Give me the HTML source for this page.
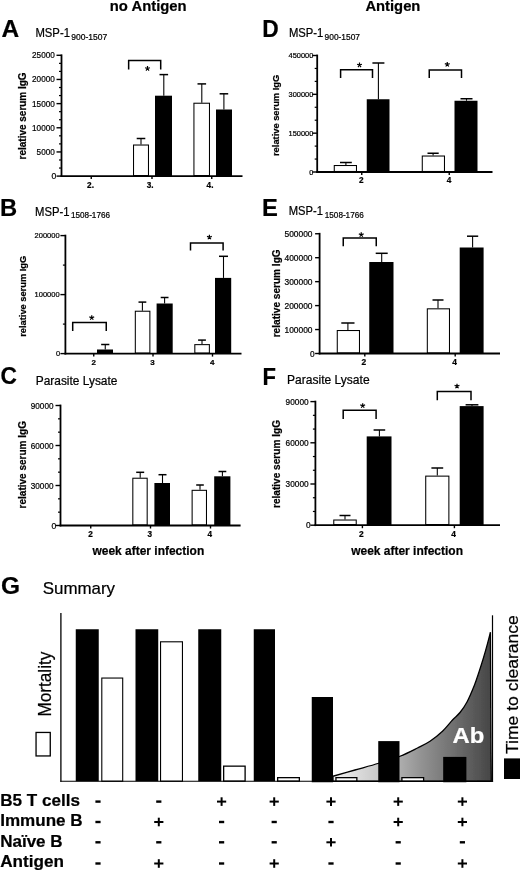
<!DOCTYPE html>
<html><head><meta charset="utf-8"><title>Figure</title>
<style>html,body{margin:0;padding:0;background:#fff;}svg{display:block;}text{font-family:"Liberation Sans",sans-serif;stroke:#000;stroke-width:0.22px;}text.w{stroke:#fff;}</style></head>
<body>
<svg width="520" height="872" viewBox="0 0 520 872">
<defs><filter id="soft" x="0" y="0" width="520" height="872" filterUnits="userSpaceOnUse"><feGaussianBlur stdDeviation="0.3"/></filter><linearGradient id="g" x1="333" y1="0" x2="491" y2="0" gradientUnits="userSpaceOnUse"><stop offset="0" stop-color="#f2f2f2"/><stop offset="0.3" stop-color="#c6c6c6"/><stop offset="0.55" stop-color="#949494"/><stop offset="0.75" stop-color="#727272"/><stop offset="1" stop-color="#464646"/></linearGradient></defs>
<rect width="520" height="872" fill="#fff"/>
<g filter="url(#soft)">
<text x="109.8" y="10.7" font-size="15.3"  font-weight="bold" textLength="76.8" lengthAdjust="spacingAndGlyphs" >no Antigen</text>
<text x="365.4" y="10.7" font-size="15.3"  font-weight="bold" textLength="55" lengthAdjust="spacingAndGlyphs" >Antigen</text>
<rect x="133.525" y="145.025" width="14.95" height="30.549999999999994" fill="#fff" stroke="#000" stroke-width="1.05"/>
<rect x="155" y="95.7" width="17" height="80.39999999999999" fill="#000"/>
<rect x="193.925" y="103.22500000000001" width="15.549999999999994" height="72.35" fill="#fff" stroke="#000" stroke-width="1.05"/>
<rect x="216" y="109.5" width="16" height="66.6" fill="#000"/>
<line x1="141" y1="138.5" x2="141" y2="144.5" stroke="#000" stroke-width="1.08"/>
<line x1="136.7" y1="138.5" x2="145.3" y2="138.5" stroke="#000" stroke-width="1.5"/>
<line x1="163.8" y1="74.6" x2="163.8" y2="95.7" stroke="#000" stroke-width="1.08"/>
<line x1="159.5" y1="74.6" x2="168.10000000000002" y2="74.6" stroke="#000" stroke-width="1.5"/>
<line x1="201.8" y1="83.9" x2="201.8" y2="102.7" stroke="#000" stroke-width="1.08"/>
<line x1="197.5" y1="83.9" x2="206.10000000000002" y2="83.9" stroke="#000" stroke-width="1.5"/>
<line x1="223.9" y1="93.8" x2="223.9" y2="109.5" stroke="#000" stroke-width="1.08"/>
<line x1="219.6" y1="93.8" x2="228.20000000000002" y2="93.8" stroke="#000" stroke-width="1.5"/>
<polyline points="128.65,69.4 128.65,60.4 160.7,60.4 160.7,69.4" fill="none" stroke="#000" stroke-width="1.5"/>
<path d="M147.50,68.50L147.50,65.95M147.50,68.50L149.93,67.71M147.50,68.50L149.00,70.56M147.50,68.50L146.00,70.56M147.50,68.50L145.07,67.71" stroke="#000" stroke-width="1.2" fill="none"/>
<line x1="61.5" y1="54.4" x2="61.5" y2="177.0" stroke="#000" stroke-width="1.8"/>
<line x1="60.6" y1="176.1" x2="242.5" y2="176.1" stroke="#000" stroke-width="1.8"/>
<line x1="56.5" y1="176.1" x2="61.5" y2="176.1" stroke="#000" stroke-width="1.4"/>
<text x="56.2" y="179.1" font-size="8.6"  text-anchor="end" >0</text>
<line x1="59.0" y1="168.04666666666665" x2="61.5" y2="168.04666666666665" stroke="#000" stroke-width="1.2"/>
<line x1="59.0" y1="159.99333333333334" x2="61.5" y2="159.99333333333334" stroke="#000" stroke-width="1.2"/>
<line x1="56.5" y1="151.94" x2="61.5" y2="151.94" stroke="#000" stroke-width="1.4"/>
<text x="36.599999999999994" y="154.94" font-size="8.6"  textLength="18.2" lengthAdjust="spacingAndGlyphs" >5000</text>
<line x1="59.0" y1="143.88666666666666" x2="61.5" y2="143.88666666666666" stroke="#000" stroke-width="1.2"/>
<line x1="59.0" y1="135.83333333333334" x2="61.5" y2="135.83333333333334" stroke="#000" stroke-width="1.2"/>
<line x1="56.5" y1="127.78" x2="61.5" y2="127.78" stroke="#000" stroke-width="1.4"/>
<text x="32.05" y="130.78" font-size="8.6"  textLength="22.75" lengthAdjust="spacingAndGlyphs" >10000</text>
<line x1="59.0" y1="119.72666666666667" x2="61.5" y2="119.72666666666667" stroke="#000" stroke-width="1.2"/>
<line x1="59.0" y1="111.67333333333333" x2="61.5" y2="111.67333333333333" stroke="#000" stroke-width="1.2"/>
<line x1="56.5" y1="103.61999999999999" x2="61.5" y2="103.61999999999999" stroke="#000" stroke-width="1.4"/>
<text x="32.05" y="106.61999999999999" font-size="8.6"  textLength="22.75" lengthAdjust="spacingAndGlyphs" >15000</text>
<line x1="59.0" y1="95.56666666666666" x2="61.5" y2="95.56666666666666" stroke="#000" stroke-width="1.2"/>
<line x1="59.0" y1="87.51333333333332" x2="61.5" y2="87.51333333333332" stroke="#000" stroke-width="1.2"/>
<line x1="56.5" y1="79.46" x2="61.5" y2="79.46" stroke="#000" stroke-width="1.4"/>
<text x="32.05" y="82.46" font-size="8.6"  textLength="22.75" lengthAdjust="spacingAndGlyphs" >20000</text>
<line x1="59.0" y1="71.40666666666667" x2="61.5" y2="71.40666666666667" stroke="#000" stroke-width="1.2"/>
<line x1="59.0" y1="63.353333333333325" x2="61.5" y2="63.353333333333325" stroke="#000" stroke-width="1.2"/>
<line x1="56.5" y1="55.3" x2="61.5" y2="55.3" stroke="#000" stroke-width="1.4"/>
<text x="32.05" y="58.3" font-size="8.6"  textLength="22.75" lengthAdjust="spacingAndGlyphs" >25000</text>
<line x1="91.25" y1="176.1" x2="91.25" y2="179.1" stroke="#000" stroke-width="1.4"/>
<text x="90.5" y="187.8" font-size="8.2"  font-weight="bold" text-anchor="middle" >2.</text>
<line x1="152" y1="176.1" x2="152" y2="179.1" stroke="#000" stroke-width="1.4"/>
<text x="150.1" y="187.8" font-size="8.2"  font-weight="bold" text-anchor="middle" >3.</text>
<line x1="211.75" y1="176.1" x2="211.75" y2="179.1" stroke="#000" stroke-width="1.4"/>
<text x="210" y="187.8" font-size="8.2"  font-weight="bold" text-anchor="middle" >4.</text>
<text x="25.6" y="115.9" font-size="10"  font-weight="bold" text-anchor="middle" textLength="87" lengthAdjust="spacingAndGlyphs" transform="rotate(-90 25.6 115.9)">relative serum IgG</text>
<text x="1.4" y="37.1" font-size="24.5"  font-weight="bold" textLength="17.69" lengthAdjust="spacingAndGlyphs" >A</text>
<text x="35.4" y="37.3" font-size="12.2"  textLength="34.6" lengthAdjust="spacingAndGlyphs" >MSP-1</text>
<text x="71.3" y="40.2" font-size="8.5"  textLength="36.0" lengthAdjust="spacingAndGlyphs" >900-1507</text>
<rect x="334.275" y="165.525" width="22.2" height="5.95" fill="#fff" stroke="#000" stroke-width="1.05"/>
<rect x="366.75" y="99.25" width="22.75" height="72.75" fill="#000"/>
<rect x="422.275" y="156.025" width="22.2" height="15.45" fill="#fff" stroke="#000" stroke-width="1.05"/>
<rect x="454.5" y="100.75" width="23.0" height="71.25" fill="#000"/>
<line x1="345.9" y1="162.5" x2="345.9" y2="165" stroke="#000" stroke-width="1.08"/>
<line x1="340.0" y1="162.5" x2="351.79999999999995" y2="162.5" stroke="#000" stroke-width="1.5"/>
<line x1="378.4" y1="63" x2="378.4" y2="99.25" stroke="#000" stroke-width="1.08"/>
<line x1="372.4" y1="63" x2="384.4" y2="63" stroke="#000" stroke-width="1.5"/>
<line x1="433.1" y1="153.25" x2="433.1" y2="155.5" stroke="#000" stroke-width="1.08"/>
<line x1="427.5" y1="153.25" x2="438.70000000000005" y2="153.25" stroke="#000" stroke-width="1.5"/>
<line x1="466.5" y1="98.75" x2="466.5" y2="100.75" stroke="#000" stroke-width="1.08"/>
<line x1="460.5" y1="98.75" x2="472.5" y2="98.75" stroke="#000" stroke-width="1.5"/>
<polyline points="340.6,78 340.6,69.7 372.5,69.7 372.5,78" fill="none" stroke="#000" stroke-width="1.5"/>
<path d="M359.50,65.00L359.50,62.45M359.50,65.00L361.93,64.21M359.50,65.00L361.00,67.06M359.50,65.00L358.00,67.06M359.50,65.00L357.07,64.21" stroke="#000" stroke-width="1.2" fill="none"/>
<polyline points="429.25,78 429.25,70 461.5,70 461.5,78" fill="none" stroke="#000" stroke-width="1.5"/>
<path d="M447.25,64.45L447.25,61.90M447.25,64.45L449.68,63.66M447.25,64.45L448.75,66.51M447.25,64.45L445.75,66.51M447.25,64.45L444.82,63.66" stroke="#000" stroke-width="1.2" fill="none"/>
<line x1="317.2" y1="54.6" x2="317.2" y2="172.9" stroke="#000" stroke-width="1.8"/>
<line x1="316.3" y1="172" x2="492.5" y2="172" stroke="#000" stroke-width="1.8"/>
<line x1="312.2" y1="172.0" x2="317.2" y2="172.0" stroke="#000" stroke-width="1.4"/>
<text x="313.2" y="174.5" font-size="7.3"  text-anchor="end" >0</text>
<line x1="314.7" y1="159.05555555555554" x2="317.2" y2="159.05555555555554" stroke="#000" stroke-width="1.2"/>
<line x1="314.7" y1="146.11111111111111" x2="317.2" y2="146.11111111111111" stroke="#000" stroke-width="1.2"/>
<line x1="312.2" y1="133.16666666666666" x2="317.2" y2="133.16666666666666" stroke="#000" stroke-width="1.4"/>
<text x="288.62" y="135.66666666666666" font-size="7.3"  textLength="24.78" lengthAdjust="spacingAndGlyphs" >150000</text>
<line x1="314.7" y1="120.22222222222221" x2="317.2" y2="120.22222222222221" stroke="#000" stroke-width="1.2"/>
<line x1="314.7" y1="107.27777777777777" x2="317.2" y2="107.27777777777777" stroke="#000" stroke-width="1.2"/>
<line x1="312.2" y1="94.33333333333333" x2="317.2" y2="94.33333333333333" stroke="#000" stroke-width="1.4"/>
<text x="288.62" y="96.83333333333333" font-size="7.3"  textLength="24.78" lengthAdjust="spacingAndGlyphs" >300000</text>
<line x1="314.7" y1="81.38888888888889" x2="317.2" y2="81.38888888888889" stroke="#000" stroke-width="1.2"/>
<line x1="314.7" y1="68.44444444444444" x2="317.2" y2="68.44444444444444" stroke="#000" stroke-width="1.2"/>
<line x1="312.2" y1="55.5" x2="317.2" y2="55.5" stroke="#000" stroke-width="1.4"/>
<text x="288.62" y="58.0" font-size="7.3"  textLength="24.78" lengthAdjust="spacingAndGlyphs" >450000</text>
<line x1="361.75" y1="172" x2="361.75" y2="175" stroke="#000" stroke-width="1.4"/>
<text x="361.25" y="183.3" font-size="8.2"  font-weight="bold" text-anchor="middle" >2</text>
<line x1="449.25" y1="172" x2="449.25" y2="175" stroke="#000" stroke-width="1.4"/>
<text x="449" y="183.3" font-size="8.2"  font-weight="bold" text-anchor="middle" >4</text>
<text x="279.4" y="115.4" font-size="9.3"  font-weight="bold" text-anchor="middle" textLength="81.2" lengthAdjust="spacingAndGlyphs" transform="rotate(-90 279.4 115.4)">relative serum IgG</text>
<text x="262.3" y="37.2" font-size="24.5"  font-weight="bold" textLength="16.45" lengthAdjust="spacingAndGlyphs" >D</text>
<text x="288.9" y="37.3" font-size="12.2"  textLength="34.5" lengthAdjust="spacingAndGlyphs" >MSP-1</text>
<text x="324.6" y="40.2" font-size="8.5"  textLength="35.4" lengthAdjust="spacingAndGlyphs" >900-1507</text>
<rect x="97" y="349.5" width="16" height="4.100000000000023" fill="#000"/>
<rect x="135.32500000000002" y="311.22499999999997" width="14.549999999999994" height="41.85000000000004" fill="#fff" stroke="#000" stroke-width="1.05"/>
<rect x="156.6" y="303.5" width="16.099999999999994" height="50.10000000000002" fill="#000"/>
<rect x="194.82500000000002" y="344.625" width="14.549999999999994" height="8.45" fill="#fff" stroke="#000" stroke-width="1.05"/>
<rect x="215" y="277.9" width="16.19999999999999" height="75.70000000000005" fill="#000"/>
<line x1="105.25" y1="344.5" x2="105.25" y2="349.5" stroke="#000" stroke-width="1.08"/>
<line x1="101.15" y1="344.5" x2="109.35" y2="344.5" stroke="#000" stroke-width="1.5"/>
<line x1="142.4" y1="302.1" x2="142.4" y2="310.7" stroke="#000" stroke-width="1.08"/>
<line x1="138.5" y1="302.1" x2="146.3" y2="302.1" stroke="#000" stroke-width="1.5"/>
<line x1="164.6" y1="297.5" x2="164.6" y2="303.5" stroke="#000" stroke-width="1.08"/>
<line x1="160.7" y1="297.5" x2="168.5" y2="297.5" stroke="#000" stroke-width="1.5"/>
<line x1="202" y1="340.1" x2="202" y2="344.1" stroke="#000" stroke-width="1.08"/>
<line x1="198.1" y1="340.1" x2="205.9" y2="340.1" stroke="#000" stroke-width="1.5"/>
<line x1="223.5" y1="256.3" x2="223.5" y2="277.9" stroke="#000" stroke-width="1.08"/>
<line x1="219.0" y1="256.3" x2="228.0" y2="256.3" stroke="#000" stroke-width="1.5"/>
<polyline points="72.7,331 72.7,322.5 106.25,322.5 106.25,331" fill="none" stroke="#000" stroke-width="1.5"/>
<path d="M91.75,317.70L91.75,315.15M91.75,317.70L94.18,316.91M91.75,317.70L93.25,319.76M91.75,317.70L90.25,319.76M91.75,317.70L89.32,316.91" stroke="#000" stroke-width="1.2" fill="none"/>
<polyline points="190.5,250.4 190.5,242.9 223.1,242.9 223.1,250.4" fill="none" stroke="#000" stroke-width="1.5"/>
<path d="M209.40,237.20L209.40,234.65M209.40,237.20L211.83,236.41M209.40,237.20L210.90,239.26M209.40,237.20L207.90,239.26M209.40,237.20L206.97,236.41" stroke="#000" stroke-width="1.2" fill="none"/>
<line x1="65.4" y1="234.7" x2="65.4" y2="354.5" stroke="#000" stroke-width="1.8"/>
<line x1="64.5" y1="353.6" x2="241.5" y2="353.6" stroke="#000" stroke-width="1.8"/>
<line x1="60.400000000000006" y1="353.6" x2="65.4" y2="353.6" stroke="#000" stroke-width="1.4"/>
<text x="60" y="356.1" font-size="7.4"  text-anchor="end" >0</text>
<line x1="62.900000000000006" y1="324.1" x2="65.4" y2="324.1" stroke="#000" stroke-width="1.2"/>
<line x1="60.400000000000006" y1="294.6" x2="65.4" y2="294.6" stroke="#000" stroke-width="1.4"/>
<text x="34.58" y="297.1" font-size="7.4"  textLength="25.02" lengthAdjust="spacingAndGlyphs" >100000</text>
<line x1="62.900000000000006" y1="265.1" x2="65.4" y2="265.1" stroke="#000" stroke-width="1.2"/>
<line x1="60.400000000000006" y1="235.6" x2="65.4" y2="235.6" stroke="#000" stroke-width="1.4"/>
<text x="34.58" y="238.1" font-size="7.4"  textLength="25.02" lengthAdjust="spacingAndGlyphs" >200000</text>
<line x1="93.75" y1="353.6" x2="93.75" y2="356.6" stroke="#000" stroke-width="1.4"/>
<text x="93.75" y="364.7" font-size="8.0"  font-weight="bold" text-anchor="middle" >2</text>
<line x1="153" y1="353.6" x2="153" y2="356.6" stroke="#000" stroke-width="1.4"/>
<text x="152.5" y="364.7" font-size="8.0"  font-weight="bold" text-anchor="middle" >3</text>
<line x1="212.5" y1="353.6" x2="212.5" y2="356.6" stroke="#000" stroke-width="1.4"/>
<text x="212.3" y="364.7" font-size="8.0"  font-weight="bold" text-anchor="middle" >4</text>
<text x="25.6" y="296.3" font-size="9.3"  font-weight="bold" text-anchor="middle" textLength="81" lengthAdjust="spacingAndGlyphs" transform="rotate(-90 25.6 296.3)">relative serum IgG</text>
<text x="0" y="215.6" font-size="24.5"  font-weight="bold" textLength="17.16" lengthAdjust="spacingAndGlyphs" >B</text>
<text x="35" y="215.5" font-size="12.2"  textLength="34.5" lengthAdjust="spacingAndGlyphs" >MSP-1</text>
<text x="71" y="218.4" font-size="8.5"  textLength="39" lengthAdjust="spacingAndGlyphs" >1508-1766</text>
<rect x="337.275" y="330.525" width="22.2" height="22.45" fill="#fff" stroke="#000" stroke-width="1.05"/>
<rect x="369.25" y="262" width="24.25" height="91.5" fill="#000"/>
<rect x="427.325" y="308.825" width="22.149999999999988" height="44.14999999999999" fill="#fff" stroke="#000" stroke-width="1.05"/>
<rect x="459.7" y="247.5" width="23.900000000000034" height="106.0" fill="#000"/>
<line x1="347.9" y1="323" x2="347.9" y2="330" stroke="#000" stroke-width="1.08"/>
<line x1="341.29999999999995" y1="323" x2="354.5" y2="323" stroke="#000" stroke-width="1.5"/>
<line x1="381.7" y1="253.3" x2="381.7" y2="262" stroke="#000" stroke-width="1.08"/>
<line x1="375.7" y1="253.3" x2="387.7" y2="253.3" stroke="#000" stroke-width="1.5"/>
<line x1="438" y1="300" x2="438" y2="308.3" stroke="#000" stroke-width="1.08"/>
<line x1="432.5" y1="300" x2="443.5" y2="300" stroke="#000" stroke-width="1.5"/>
<line x1="472.6" y1="236.2" x2="472.6" y2="247.5" stroke="#000" stroke-width="1.08"/>
<line x1="467.0" y1="236.2" x2="478.20000000000005" y2="236.2" stroke="#000" stroke-width="1.5"/>
<polyline points="343.25,246.25 343.25,238 376.25,238 376.25,246.25" fill="none" stroke="#000" stroke-width="1.5"/>
<path d="M361.25,234.70L361.25,232.15M361.25,234.70L363.68,233.91M361.25,234.70L362.75,236.76M361.25,234.70L359.75,236.76M361.25,234.70L358.82,233.91" stroke="#000" stroke-width="1.2" fill="none"/>
<line x1="319.6" y1="232.85" x2="319.6" y2="354.4" stroke="#000" stroke-width="1.8"/>
<line x1="318.70000000000005" y1="353.5" x2="500" y2="353.5" stroke="#000" stroke-width="1.8"/>
<line x1="315.1" y1="353.5" x2="319.6" y2="353.5" stroke="#000" stroke-width="1.4"/>
<text x="314.5" y="356.5" font-size="8.3"  text-anchor="end" >0</text>
<line x1="315.1" y1="329.55" x2="319.6" y2="329.55" stroke="#000" stroke-width="1.4"/>
<text x="284.48" y="332.55" font-size="8.3"  textLength="28.02" lengthAdjust="spacingAndGlyphs" >100000</text>
<line x1="315.1" y1="305.6" x2="319.6" y2="305.6" stroke="#000" stroke-width="1.4"/>
<text x="284.48" y="308.6" font-size="8.3"  textLength="28.02" lengthAdjust="spacingAndGlyphs" >200000</text>
<line x1="315.1" y1="281.65" x2="319.6" y2="281.65" stroke="#000" stroke-width="1.4"/>
<text x="284.48" y="284.65" font-size="8.3"  textLength="28.02" lengthAdjust="spacingAndGlyphs" >300000</text>
<line x1="315.1" y1="257.7" x2="319.6" y2="257.7" stroke="#000" stroke-width="1.4"/>
<text x="284.48" y="260.7" font-size="8.3"  textLength="28.02" lengthAdjust="spacingAndGlyphs" >400000</text>
<line x1="315.1" y1="233.75" x2="319.6" y2="233.75" stroke="#000" stroke-width="1.4"/>
<text x="284.48" y="236.75" font-size="8.3"  textLength="28.02" lengthAdjust="spacingAndGlyphs" >500000</text>
<line x1="364.8" y1="353.5" x2="364.8" y2="356.5" stroke="#000" stroke-width="1.4"/>
<text x="363.75" y="364.7" font-size="8.4"  font-weight="bold" text-anchor="middle" >2</text>
<line x1="455.2" y1="353.5" x2="455.2" y2="356.5" stroke="#000" stroke-width="1.4"/>
<text x="454.5" y="364.7" font-size="8.4"  font-weight="bold" text-anchor="middle" >4</text>
<text x="280.2" y="293.3" font-size="10.1"  font-weight="bold" text-anchor="middle" textLength="88" lengthAdjust="spacingAndGlyphs" transform="rotate(-90 280.2 293.3)">relative serum IgG</text>
<text x="262.1" y="215.7" font-size="24.5"  font-weight="bold" textLength="15.85" lengthAdjust="spacingAndGlyphs" >E</text>
<text x="288.75" y="215.4" font-size="12.2"  textLength="34.25" lengthAdjust="spacingAndGlyphs" >MSP-1</text>
<text x="324.8" y="218.3" font-size="8.5"  textLength="38.95" lengthAdjust="spacingAndGlyphs" >1508-1766</text>
<rect x="132.82500000000002" y="478.22499999999997" width="14.349999999999977" height="46.750000000000014" fill="#fff" stroke="#000" stroke-width="1.05"/>
<rect x="154.4" y="483" width="15.599999999999994" height="42.5" fill="#000"/>
<rect x="192.125" y="490.325" width="14.350000000000005" height="34.64999999999999" fill="#fff" stroke="#000" stroke-width="1.05"/>
<rect x="214.2" y="476.3" width="16.200000000000017" height="49.19999999999999" fill="#000"/>
<line x1="140.2" y1="472.3" x2="140.2" y2="477.7" stroke="#000" stroke-width="1.08"/>
<line x1="136.2" y1="472.3" x2="144.2" y2="472.3" stroke="#000" stroke-width="1.5"/>
<line x1="162.5" y1="474.7" x2="162.5" y2="483" stroke="#000" stroke-width="1.08"/>
<line x1="158.5" y1="474.7" x2="166.5" y2="474.7" stroke="#000" stroke-width="1.5"/>
<line x1="200" y1="485" x2="200" y2="489.8" stroke="#000" stroke-width="1.08"/>
<line x1="196.2" y1="485" x2="203.8" y2="485" stroke="#000" stroke-width="1.5"/>
<line x1="222.4" y1="471.5" x2="222.4" y2="476.3" stroke="#000" stroke-width="1.08"/>
<line x1="218.5" y1="471.5" x2="226.3" y2="471.5" stroke="#000" stroke-width="1.5"/>
<line x1="60.5" y1="404.6" x2="60.5" y2="526.4" stroke="#000" stroke-width="1.8"/>
<line x1="59.6" y1="525.5" x2="240.6" y2="525.5" stroke="#000" stroke-width="1.8"/>
<line x1="55.5" y1="525.5" x2="60.5" y2="525.5" stroke="#000" stroke-width="1.4"/>
<text x="56.2" y="528.5" font-size="8.6"  text-anchor="end" >0</text>
<line x1="58.0" y1="512.1666666666666" x2="60.5" y2="512.1666666666666" stroke="#000" stroke-width="1.2"/>
<line x1="58.0" y1="498.8333333333333" x2="60.5" y2="498.8333333333333" stroke="#000" stroke-width="1.2"/>
<line x1="55.5" y1="485.5" x2="60.5" y2="485.5" stroke="#000" stroke-width="1.4"/>
<text x="30.75" y="488.5" font-size="8.6"  textLength="22.75" lengthAdjust="spacingAndGlyphs" >30000</text>
<line x1="58.0" y1="472.1666666666667" x2="60.5" y2="472.1666666666667" stroke="#000" stroke-width="1.2"/>
<line x1="58.0" y1="458.8333333333333" x2="60.5" y2="458.8333333333333" stroke="#000" stroke-width="1.2"/>
<line x1="55.5" y1="445.5" x2="60.5" y2="445.5" stroke="#000" stroke-width="1.4"/>
<text x="30.75" y="448.5" font-size="8.6"  textLength="22.75" lengthAdjust="spacingAndGlyphs" >60000</text>
<line x1="58.0" y1="432.1666666666667" x2="60.5" y2="432.1666666666667" stroke="#000" stroke-width="1.2"/>
<line x1="58.0" y1="418.8333333333333" x2="60.5" y2="418.8333333333333" stroke="#000" stroke-width="1.2"/>
<line x1="55.5" y1="405.5" x2="60.5" y2="405.5" stroke="#000" stroke-width="1.4"/>
<text x="30.75" y="408.5" font-size="8.6"  textLength="22.75" lengthAdjust="spacingAndGlyphs" >90000</text>
<line x1="90.75" y1="525.5" x2="90.75" y2="528.5" stroke="#000" stroke-width="1.4"/>
<text x="90.5" y="537.3" font-size="8.2"  font-weight="bold" text-anchor="middle" >2</text>
<line x1="150.5" y1="525.5" x2="150.5" y2="528.5" stroke="#000" stroke-width="1.4"/>
<text x="149.8" y="537.3" font-size="8.2"  font-weight="bold" text-anchor="middle" >3</text>
<line x1="210.5" y1="525.5" x2="210.5" y2="528.5" stroke="#000" stroke-width="1.4"/>
<text x="209.8" y="537.3" font-size="8.2"  font-weight="bold" text-anchor="middle" >4</text>
<text x="25.6" y="464.7" font-size="10"  font-weight="bold" text-anchor="middle" textLength="87.4" lengthAdjust="spacingAndGlyphs" transform="rotate(-90 25.6 464.7)">relative serum IgG</text>
<text x="0.5" y="384.1" font-size="24.5"  font-weight="bold" textLength="16.45" lengthAdjust="spacingAndGlyphs" >C</text>
<text x="35.75" y="384.5" font-size="11.9"  textLength="81.65" lengthAdjust="spacingAndGlyphs" >Parasite Lysate</text>
<rect x="333.775" y="520.025" width="22.45" height="4.650000000000046" fill="#fff" stroke="#000" stroke-width="1.05"/>
<rect x="366.7" y="436.4" width="24.80000000000001" height="88.80000000000007" fill="#000"/>
<rect x="425.72499999999997" y="476.125" width="23.149999999999988" height="48.550000000000026" fill="#fff" stroke="#000" stroke-width="1.05"/>
<rect x="459.7" y="406.1" width="23.900000000000034" height="119.10000000000002" fill="#000"/>
<line x1="345" y1="515.5" x2="345" y2="519.5" stroke="#000" stroke-width="1.08"/>
<line x1="339.5" y1="515.5" x2="350.5" y2="515.5" stroke="#000" stroke-width="1.5"/>
<line x1="379.4" y1="430" x2="379.4" y2="436.4" stroke="#000" stroke-width="1.08"/>
<line x1="373.59999999999997" y1="430" x2="385.2" y2="430" stroke="#000" stroke-width="1.5"/>
<line x1="437.3" y1="468" x2="437.3" y2="475.6" stroke="#000" stroke-width="1.08"/>
<line x1="431.40000000000003" y1="468" x2="443.2" y2="468" stroke="#000" stroke-width="1.5"/>
<line x1="472" y1="404.8" x2="472" y2="406.1" stroke="#000" stroke-width="1.08"/>
<line x1="465.6" y1="404.8" x2="478.4" y2="404.8" stroke="#000" stroke-width="1.5"/>
<polyline points="343.2,419 343.2,410.3 376.1,410.3 376.1,419" fill="none" stroke="#000" stroke-width="1.5"/>
<path d="M362.70,405.70L362.70,403.15M362.70,405.70L365.13,404.91M362.70,405.70L364.20,407.76M362.70,405.70L361.20,407.76M362.70,405.70L360.27,404.91" stroke="#000" stroke-width="1.2" fill="none"/>
<polyline points="437.3,400.2 437.3,391.6 471,391.6 471,400.2" fill="none" stroke="#000" stroke-width="1.5"/>
<path d="M457.00,386.20L457.00,383.65M457.00,386.20L459.43,385.41M457.00,386.20L458.50,388.26M457.00,386.20L455.50,388.26M457.00,386.20L454.57,385.41" stroke="#000" stroke-width="1.2" fill="none"/>
<line x1="315.4" y1="400.70000000000005" x2="315.4" y2="526.1" stroke="#000" stroke-width="1.8"/>
<line x1="314.5" y1="525.2" x2="500" y2="525.2" stroke="#000" stroke-width="1.8"/>
<line x1="310.4" y1="525.2" x2="315.4" y2="525.2" stroke="#000" stroke-width="1.4"/>
<text x="310.5" y="528.2" font-size="8.3"  text-anchor="end" >0</text>
<line x1="312.9" y1="511.4666666666667" x2="315.4" y2="511.4666666666667" stroke="#000" stroke-width="1.2"/>
<line x1="312.9" y1="497.73333333333335" x2="315.4" y2="497.73333333333335" stroke="#000" stroke-width="1.2"/>
<line x1="310.4" y1="484.00000000000006" x2="315.4" y2="484.00000000000006" stroke="#000" stroke-width="1.4"/>
<text x="285.6" y="487.00000000000006" font-size="8.3"  textLength="23.0" lengthAdjust="spacingAndGlyphs" >30000</text>
<line x1="312.9" y1="470.2666666666667" x2="315.4" y2="470.2666666666667" stroke="#000" stroke-width="1.2"/>
<line x1="312.9" y1="456.53333333333336" x2="315.4" y2="456.53333333333336" stroke="#000" stroke-width="1.2"/>
<line x1="310.4" y1="442.8" x2="315.4" y2="442.8" stroke="#000" stroke-width="1.4"/>
<text x="285.6" y="445.8" font-size="8.3"  textLength="23.0" lengthAdjust="spacingAndGlyphs" >60000</text>
<line x1="312.9" y1="429.06666666666666" x2="315.4" y2="429.06666666666666" stroke="#000" stroke-width="1.2"/>
<line x1="312.9" y1="415.3333333333333" x2="315.4" y2="415.3333333333333" stroke="#000" stroke-width="1.2"/>
<line x1="310.4" y1="401.6" x2="315.4" y2="401.6" stroke="#000" stroke-width="1.4"/>
<text x="285.6" y="404.6" font-size="8.3"  textLength="23.0" lengthAdjust="spacingAndGlyphs" >90000</text>
<line x1="362.4" y1="525.2" x2="362.4" y2="528.2" stroke="#000" stroke-width="1.4"/>
<text x="361.25" y="536.5" font-size="8.4"  font-weight="bold" text-anchor="middle" >2</text>
<line x1="454.4" y1="525.2" x2="454.4" y2="528.2" stroke="#000" stroke-width="1.4"/>
<text x="453.7" y="536.5" font-size="8.4"  font-weight="bold" text-anchor="middle" >4</text>
<text x="280.2" y="464" font-size="10.1"  font-weight="bold" text-anchor="middle" textLength="88" lengthAdjust="spacingAndGlyphs" transform="rotate(-90 280.2 464)">relative serum IgG</text>
<text x="262.6" y="384.5" font-size="24.5"  font-weight="bold" textLength="13.47" lengthAdjust="spacingAndGlyphs" >F</text>
<text x="287" y="384.3" font-size="11.9"  textLength="82.6" lengthAdjust="spacingAndGlyphs" >Parasite Lysate</text>
<text x="92.5" y="555" font-size="12"  font-weight="bold" textLength="111.7" lengthAdjust="spacingAndGlyphs" >week after infection</text>
<text x="351.25" y="555" font-size="12"  font-weight="bold" textLength="111.7" lengthAdjust="spacingAndGlyphs" >week after infection</text>
<text x="1" y="593.9" font-size="24.5"  font-weight="bold" >G</text>
<text x="42.7" y="593.6" font-size="17"  textLength="72.4" lengthAdjust="spacingAndGlyphs" >Summary</text>
<path d="M333,776.25 C336.67,775.21 347.38,772.17 355,770 C362.62,767.83 371.25,765.54 378.75,763.25 C386.25,760.96 393.54,758.79 400,756.25 C406.46,753.71 412.50,750.50 417.5,748 C422.50,745.50 425.83,744.04 430,741.25 C434.17,738.46 438.75,734.79 442.5,731.25 C446.25,727.71 449.58,723.12 452.5,720 C455.42,716.88 457.58,715.50 460,712.5 C462.42,709.50 464.58,706.58 467,702 C469.42,697.42 472.50,690.00 474.5,685 C476.50,680.00 477.55,676.37 479,672 C480.45,667.63 481.78,663.53 483.2,658.8 C484.62,654.07 486.30,648.03 487.5,643.6 C488.70,639.17 489.92,634.10 490.4,632.2 L491,752 L491.3,781.25 L333,781.25 Z" fill="url(#g)" stroke="#000" stroke-width="1.3"/>
<rect x="75.75" y="629.25" width="23.0" height="152.0" fill="#000"/>
<rect x="135.5" y="629.25" width="22.75" height="152.0" fill="#000"/>
<rect x="198.25" y="629.25" width="23.0" height="152.0" fill="#000"/>
<rect x="253.75" y="629.25" width="21.25" height="152.0" fill="#000"/>
<rect x="311.75" y="697" width="21.25" height="85.25" fill="#000"/>
<rect x="378.25" y="741.1" width="21.25" height="41.14999999999998" fill="#000"/>
<rect x="443.2" y="756.9" width="23.19999999999999" height="25.350000000000023" fill="#000"/>
<rect x="101.8" y="678.05" width="20.9" height="103.15" fill="#fff" stroke="#000" stroke-width="1.1"/>
<rect x="160.55" y="641.8" width="21.9" height="139.4" fill="#fff" stroke="#000" stroke-width="1.1"/>
<rect x="223.65" y="766.15" width="21.45" height="14.95" fill="#fff" stroke="#000" stroke-width="1.3"/>
<rect x="277.65" y="777.65" width="21.7" height="3.45" fill="#fff" stroke="#000" stroke-width="1.3"/>
<rect x="335.95" y="777.65" width="20.899999999999988" height="3.45" fill="#fff" stroke="#000" stroke-width="1.3"/>
<rect x="401.9" y="777.65" width="21.7" height="3.45" fill="#fff" stroke="#000" stroke-width="1.3"/>
<line x1="60.9" y1="613" x2="60.9" y2="781.85" stroke="#000" stroke-width="1.3"/>
<line x1="60.25" y1="781.25" x2="493.1" y2="781.25" stroke="#000" stroke-width="1.2"/>
<line x1="492.5" y1="615.3" x2="492.5" y2="781.85" stroke="#000" stroke-width="1.2"/>
<text x="452.5" y="743" font-size="22"  font-weight="bold" textLength="31.8" lengthAdjust="spacingAndGlyphs" fill="#fff" class="w">Ab</text>
<rect x="36.05" y="732.4499999999999" width="14.2" height="23.500000000000068" fill="#fff" stroke="#000" stroke-width="1.3"/>
<text x="50.6" y="716.6" font-size="17.6"  textLength="65" lengthAdjust="spacingAndGlyphs" transform="rotate(-90 50.6 716.6)">Mortality</text>
<rect x="504" y="758.4" width="16" height="20.600000000000023" fill="#000"/>
<text x="518.3" y="754" font-size="17.3"  textLength="138.8" lengthAdjust="spacingAndGlyphs" transform="rotate(-90 518.3 754)">Time to clearance</text>
<text x="0.2" y="805.6" font-size="16.3"  font-weight="bold" textLength="79.7" lengthAdjust="spacingAndGlyphs" >B5 T cells</text>
<text x="0.2" y="825.9" font-size="16.3"  font-weight="bold" textLength="82.4" lengthAdjust="spacingAndGlyphs" >Immune B</text>
<text x="0.2" y="846.8" font-size="16.3"  font-weight="bold" textLength="62.4" lengthAdjust="spacingAndGlyphs" >Naïve B</text>
<text x="0.2" y="867.4" font-size="16.3"  font-weight="bold" textLength="63.7" lengthAdjust="spacingAndGlyphs" >Antigen</text>
<line x1="95.4" y1="801.6" x2="100.6" y2="801.6" stroke="#000" stroke-width="2.4"/>
<line x1="156.20000000000002" y1="801.6" x2="161.4" y2="801.6" stroke="#000" stroke-width="2.4"/>
<line x1="217.0" y1="801.6" x2="226.2" y2="801.6" stroke="#000" stroke-width="2"/>
<line x1="221.6" y1="797.3000000000001" x2="221.6" y2="805.9" stroke="#000" stroke-width="2"/>
<line x1="269.59999999999997" y1="801.6" x2="278.8" y2="801.6" stroke="#000" stroke-width="2"/>
<line x1="274.2" y1="797.3000000000001" x2="274.2" y2="805.9" stroke="#000" stroke-width="2"/>
<line x1="326.4" y1="801.6" x2="335.6" y2="801.6" stroke="#000" stroke-width="2"/>
<line x1="331" y1="797.3000000000001" x2="331" y2="805.9" stroke="#000" stroke-width="2"/>
<line x1="393.59999999999997" y1="801.6" x2="402.8" y2="801.6" stroke="#000" stroke-width="2"/>
<line x1="398.2" y1="797.3000000000001" x2="398.2" y2="805.9" stroke="#000" stroke-width="2"/>
<line x1="457.79999999999995" y1="801.6" x2="467.0" y2="801.6" stroke="#000" stroke-width="2"/>
<line x1="462.4" y1="797.3000000000001" x2="462.4" y2="805.9" stroke="#000" stroke-width="2"/>
<line x1="95.4" y1="822" x2="100.6" y2="822" stroke="#000" stroke-width="2.4"/>
<line x1="154.20000000000002" y1="822" x2="163.4" y2="822" stroke="#000" stroke-width="2"/>
<line x1="158.8" y1="817.7" x2="158.8" y2="826.3" stroke="#000" stroke-width="2"/>
<line x1="219.0" y1="822" x2="224.2" y2="822" stroke="#000" stroke-width="2.4"/>
<line x1="271.59999999999997" y1="822" x2="276.8" y2="822" stroke="#000" stroke-width="2.4"/>
<line x1="328.4" y1="822" x2="333.6" y2="822" stroke="#000" stroke-width="2.4"/>
<line x1="393.59999999999997" y1="822" x2="402.8" y2="822" stroke="#000" stroke-width="2"/>
<line x1="398.2" y1="817.7" x2="398.2" y2="826.3" stroke="#000" stroke-width="2"/>
<line x1="457.79999999999995" y1="822" x2="467.0" y2="822" stroke="#000" stroke-width="2"/>
<line x1="462.4" y1="817.7" x2="462.4" y2="826.3" stroke="#000" stroke-width="2"/>
<line x1="95.4" y1="842.3" x2="100.6" y2="842.3" stroke="#000" stroke-width="2.4"/>
<line x1="156.20000000000002" y1="842.3" x2="161.4" y2="842.3" stroke="#000" stroke-width="2.4"/>
<line x1="219.0" y1="842.3" x2="224.2" y2="842.3" stroke="#000" stroke-width="2.4"/>
<line x1="271.59999999999997" y1="842.3" x2="276.8" y2="842.3" stroke="#000" stroke-width="2.4"/>
<line x1="326.4" y1="842.3" x2="335.6" y2="842.3" stroke="#000" stroke-width="2"/>
<line x1="331" y1="838.0" x2="331" y2="846.5999999999999" stroke="#000" stroke-width="2"/>
<line x1="395.59999999999997" y1="842.3" x2="400.8" y2="842.3" stroke="#000" stroke-width="2.4"/>
<line x1="459.79999999999995" y1="842.3" x2="465.0" y2="842.3" stroke="#000" stroke-width="2.4"/>
<line x1="95.4" y1="863.5" x2="100.6" y2="863.5" stroke="#000" stroke-width="2.4"/>
<line x1="154.20000000000002" y1="863.5" x2="163.4" y2="863.5" stroke="#000" stroke-width="2"/>
<line x1="158.8" y1="859.2" x2="158.8" y2="867.8" stroke="#000" stroke-width="2"/>
<line x1="219.0" y1="863.5" x2="224.2" y2="863.5" stroke="#000" stroke-width="2.4"/>
<line x1="269.59999999999997" y1="863.5" x2="278.8" y2="863.5" stroke="#000" stroke-width="2"/>
<line x1="274.2" y1="859.2" x2="274.2" y2="867.8" stroke="#000" stroke-width="2"/>
<line x1="328.4" y1="863.5" x2="333.6" y2="863.5" stroke="#000" stroke-width="2.4"/>
<line x1="395.59999999999997" y1="863.5" x2="400.8" y2="863.5" stroke="#000" stroke-width="2.4"/>
<line x1="457.79999999999995" y1="863.5" x2="467.0" y2="863.5" stroke="#000" stroke-width="2"/>
<line x1="462.4" y1="859.2" x2="462.4" y2="867.8" stroke="#000" stroke-width="2"/>
</g>
</svg>
</body></html>
